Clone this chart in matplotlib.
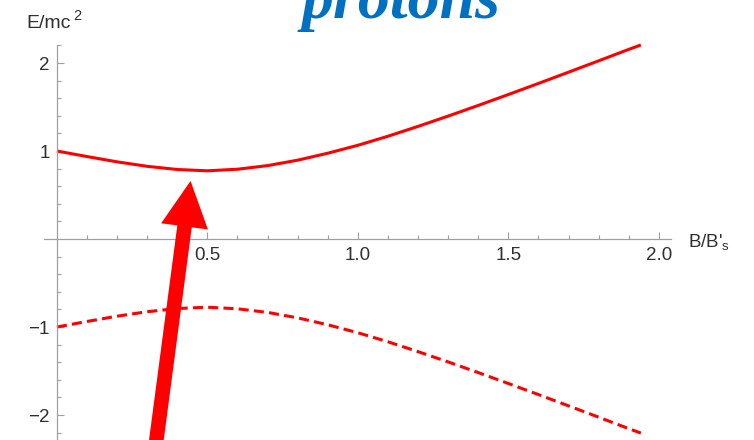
import matplotlib
matplotlib.use('Agg')
import matplotlib.pyplot as plt
from matplotlib.patches import FancyArrowPatch
from matplotlib.ticker import FixedLocator

plt.rcParams['font.family'] = ['Liberation Sans', 'DejaVu Sans']
plt.rcParams['mathtext.fontset'] = 'custom'
plt.rcParams['mathtext.rm'] = 'Liberation Sans'
plt.rcParams['mathtext.it'] = 'Liberation Sans:italic'

# field ratio B/B's
field = [0.0, 0.1, 0.2, 0.3, 0.4, 0.5, 0.6, 0.7, 0.8, 0.9, 1.0,
         1.1, 1.2, 1.3, 1.4, 1.5, 1.6, 1.7, 1.8, 1.9, 1.94]
# upper and lower energy branches, E/mc^2
energy_up = [1.000, 0.937, 0.877, 0.826, 0.790, 0.775, 0.793, 0.834, 0.896, 0.975, 1.065,
             1.168, 1.280, 1.397, 1.518, 1.642, 1.768, 1.896, 2.025, 2.155, 2.205]
energy_down = [-1.000, -0.937, -0.877, -0.826, -0.790, -0.775, -0.793, -0.834, -0.896, -0.975, -1.065,
               -1.168, -1.280, -1.397, -1.518, -1.642, -1.768, -1.896, -2.025, -2.155, -2.205]

xticks = [0.5, 1.0, 1.5, 2.0]
xticklabels = ['0.5', '1.0', '1.5', '2.0']
xminor = [0.1, 0.2, 0.3, 0.4, 0.6, 0.7, 0.8, 0.9, 1.1, 1.2, 1.3, 1.4, 1.6, 1.7, 1.8, 1.9]
yticks = [-2, -1, 1, 2]
yticklabels = ['\u22122', '\u22121', '1', '2']
yminor = [-2.2, -1.8, -1.6, -1.4, -1.2, -0.8, -0.6, -0.4, -0.2,
          0.2, 0.4, 0.6, 0.8, 1.2, 1.4, 1.6, 1.8, 2.2]

title = 'protons'
xlabel = "B/B'$_{\\mathrm{s}}$"
ylabel = 'E/mc'
ylabel_power = '2'

axcolor = '#a0a0a0'
txtcolor = '#303030'
red = '#ff0000'

fig = plt.figure(figsize=(7.54, 4.40), dpi=100, facecolor='white')
ax = fig.add_axes([0, 0, 1, 1])
ax.set_xlim(-0.189, 2.316)
ax.set_ylim(-2.284, 2.716)

# curves
ax.plot(field, energy_up, color=red, lw=2.2, solid_capstyle='butt')
ax.plot(field, energy_down, color=red, lw=2.2, linestyle=(0, (3.3, 1.7)))

# axes crossing at the origin
for side in ['top', 'right']:
    ax.spines[side].set_visible(False)
ax.spines['left'].set_position(('data', 0))
ax.spines['bottom'].set_position(('data', 0))
ax.spines['left'].set_bounds(-2.4, 2.2)
ax.spines['bottom'].set_bounds(-0.043, 2.04)
for side in ['left', 'bottom']:
    ax.spines[side].set_color(axcolor)
    ax.spines[side].set_linewidth(0.9)

ax.xaxis.set_major_locator(FixedLocator(xticks))
ax.set_xticklabels(xticklabels)
ax.xaxis.set_minor_locator(FixedLocator(xminor))
ax.yaxis.set_major_locator(FixedLocator(yticks))
ax.set_yticklabels(yticklabels)
ax.yaxis.set_minor_locator(FixedLocator(yminor))
ax.tick_params(which='both', direction='in', color=axcolor, width=0.8,
               labelcolor=txtcolor, labelsize=13.5)
ax.tick_params(which='major', length=4.8)
ax.tick_params(which='minor', length=2.6)
ax.tick_params(axis='x', pad=6)
ax.tick_params(axis='y', pad=5)

ax.text(2.096, -0.034, xlabel, fontsize=13.5, color=txtcolor, ha='left', va='center')
fig.text(26 / 754, 1 - 28 / 440, ylabel, fontsize=14, color=txtcolor, ha='left', va='baseline')
fig.text(73 / 754, 1 - 20.5 / 440, ylabel_power, fontsize=10.5, color=txtcolor, ha='left', va='baseline')

fig.text(401 / 754, 1 - 18 / 440, title, fontsize=46, color='#0070c0',
         family='Liberation Serif', weight='bold', style='italic', ha='center', va='baseline')

# pointer to the minimum of the upper branch
arrow = FancyArrowPatch((0.326, -2.40), (0.444, 0.66),
                        arrowstyle='simple,head_length=33,head_width=34,tail_width=10.5',
                        mutation_scale=1, shrinkA=0, shrinkB=0,
                        color=red, lw=0, zorder=5, clip_on=False)
ax.add_patch(arrow)

fig.savefig('out.png', dpi=100, facecolor='white')
